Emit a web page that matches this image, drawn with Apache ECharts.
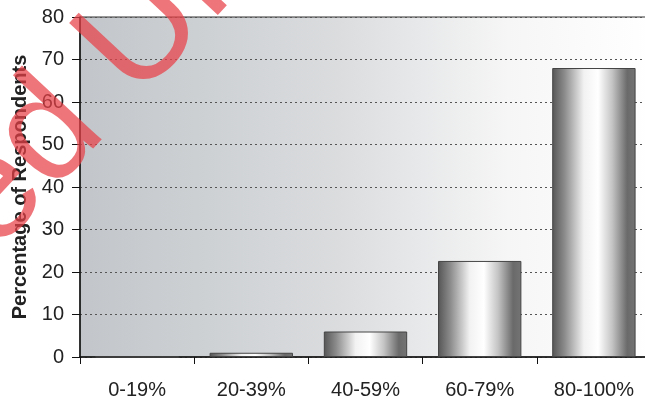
<!DOCTYPE html>
<html>
<head>
<meta charset="utf-8">
<script src="https://cdn.jsdelivr.net/npm/echarts@6/dist/echarts.min.js"></script>
<style>
  html, body { margin: 0; padding: 0; background: #fff; }
  #chart { width: 645px; height: 399px; }
</style>
</head>
<body>
<div id="chart"></div>
<script>
// Score bands and share of respondents in each band
const categories = ['0-19%', '20-39%', '40-59%', '60-79%', '80-100%'];
const respondents = [0, 1, 6, 22.6, 68];
const yTicks = [0, 10, 20, 30, 40, 50, 60, 70, 80];

const chart = echarts.init(document.getElementById('chart'), null, { renderer: 'canvas' });

// Cylinder-like shading across each bar
const barFill = new echarts.graphic.LinearGradient(0, 0, 1, 0, [
  { offset: 0, color: '#555555' },
  { offset: 0.15, color: '#8c8c8c' },
  { offset: 0.38, color: '#f2f2f2' },
  { offset: 0.55, color: '#ffffff' },
  { offset: 0.72, color: '#c4c4c4' },
  { offset: 0.9, color: '#6a6a6a' },
  { offset: 1, color: '#747474' }
]);

const font = '"Liberation Sans", Arial, sans-serif';

chart.setOption({
  animation: false,
  grid: {
    left: 80, top: 17, width: 571, height: 340,
    outerBoundsMode: 'none',
    containLabel: false,
    show: true,
    borderColor: '#333',
    borderWidth: 1,
    backgroundColor: new echarts.graphic.LinearGradient(0, 0, 1, 0, [
      { offset: 0, color: '#c2c6ca' },
      { offset: 0.45, color: '#dadcde' },
      { offset: 0.75, color: '#f6f6f6' },
      { offset: 1, color: '#ffffff' }
    ])
  },
  xAxis: {
    type: 'category',
    data: categories,
    axisLine: { lineStyle: { color: '#111', width: 1.5 } },
    axisTick: { show: true, length: 7, alignWithLabel: false, lineStyle: { color: '#111' } },
    axisLabel: { color: '#222', fontSize: 20, fontFamily: font, margin: 23 },
    splitLine: { show: false }
  },
  yAxis: {
    type: 'value',
    min: yTicks[0],
    max: yTicks[yTicks.length - 1],
    interval: 10,
    name: 'Percentage of Respondents',
    nameLocation: 'middle',
    nameGap: 50,
    nameTextStyle: { color: '#222', fontSize: 20, fontWeight: 'bold', fontFamily: font },
    axisLine: { show: true, lineStyle: { color: '#111', width: 1.5 } },
    axisTick: { show: true, length: 8, lineStyle: { color: '#111' } },
    axisLabel: { color: '#222', fontSize: 20, fontFamily: font, margin: 16 },
    splitLine: { show: true, lineStyle: { color: '#555', type: [2, 3], width: 1 } }
  },
  series: [{
    type: 'bar',
    data: respondents,
    barWidth: '73%',
    itemStyle: { color: barFill, borderColor: '#444', borderWidth: 1 }
  }],
  graphic: [{
    type: 'text',
    z: 100,
    x: -32,
    y: 332,
    rotation: 47 * Math.PI / 180,
    silent: true,
    style: {
      text: 'sed Unc',
      font: '150px "Liberation Sans", Arial, sans-serif',
      fill: 'rgba(232, 64, 70, 0.72)',
      textAlign: 'left',
      textVerticalAlign: 'bottom'
    }
  }]
});
</script>
</body>
</html>
